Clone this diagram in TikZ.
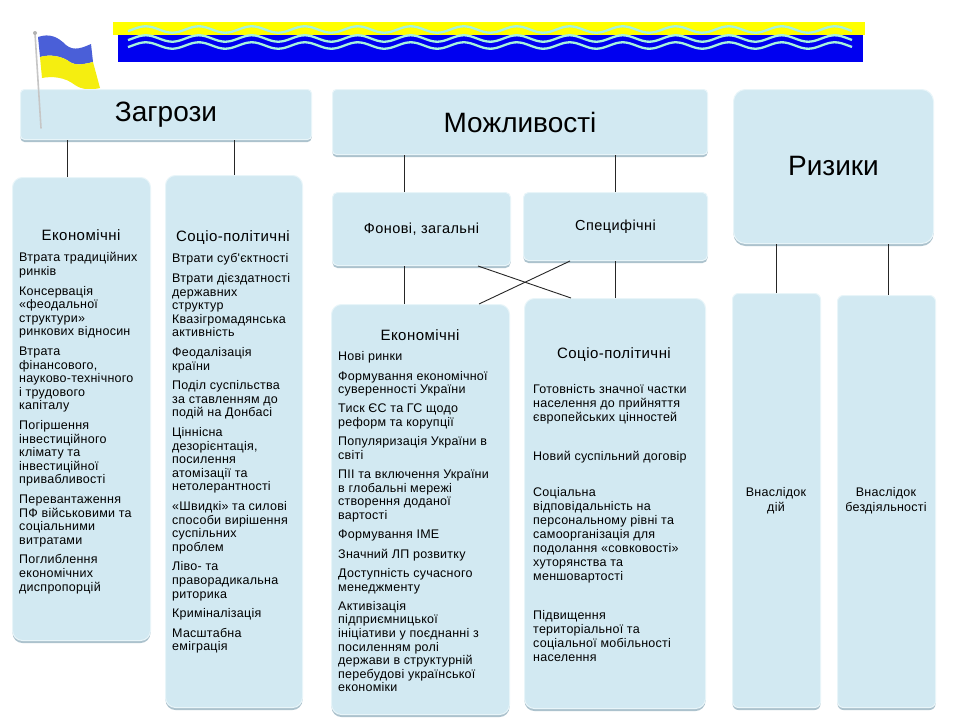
\documentclass[tikz,border=0pt]{standalone}
\usepackage{fontspec}
\setmainfont{Liberation Sans}
\newfontfamily\spacedfont[LetterSpace=2]{Liberation Sans}
\newfontfamily\titlefont[LetterSpace=3]{Liberation Sans}
\usetikzlibrary{shadows}
\definecolor{boxfill}{HTML}{D2E9F2}
\definecolor{boxedge}{HTML}{E8F5F9}
\definecolor{boxshadow}{HTML}{A3BCC8}
\definecolor{uablue}{HTML}{0000F0}
\definecolor{uayellow}{HTML}{FFFF00}
\definecolor{wavecol}{HTML}{A6F2DE}
\definecolor{flagblue}{HTML}{4A5FD8}
\definecolor{flagyellow}{HTML}{F5EE10}
\begin{document}
\begin{tikzpicture}[x=1pt,y=-1pt,
  panel/.style={fill=boxfill, draw=boxedge, line width=1pt, inner sep=0pt, anchor=north west,
    drop shadow={shadow xshift=0pt, shadow yshift=-2.5pt, fill=boxshadow, opacity=0.9}},
  headtext/.style={font=\fontsize{28}{30}\selectfont},
  subtext/.style={font=\titlefont\fontsize{14.5}{16}\selectfont},
  coltitle/.style={inner sep=0pt, font=\titlefont\fontsize{15}{17}\selectfont},
  bodytext/.style={inner sep=0pt, anchor=north west, align=left, font=\spacedfont\fontsize{12.5}{13.6}\selectfont},
  smalltext/.style={inner sep=0pt, align=center, font=\spacedfont\fontsize{12.5}{15}\selectfont},
  link/.style={draw=black!85, line width=0.9pt}]
\useasboundingbox (0,0) rectangle (960,720);
\fill[white] (0,0) rectangle (960,720);

% banner
\fill[uayellow] (113,22) rectangle (865,35);
\fill[uablue] (118,35) rectangle (863,62);
\foreach \yc in {29.5,38.5,45.5}
  \draw[wavecol, line width=2.3pt] plot[domain=128:852, samples=160, smooth] (\x, {\yc + 3.2*sin(\x/53*360)});

% flag
\fill[flagblue] (38,37) .. controls (50,33) and (58,37) .. (66,45) .. controls (74,52) and (84,47) .. (91,44)
  -- (93,62) .. controls (85,64) and (76,66) .. (70,62) .. controls (62,56) and (50,54) .. (40,57) -- cycle;
\fill[flagyellow] (40,57) .. controls (50,54) and (62,56) .. (70,62) .. controls (76,66) and (85,64) .. (93,62)
  -- (100,88) .. controls (92,90) and (82,90) .. (75,85) .. controls (65,77) and (52,76) .. (42,78) -- cycle;

% boxes
\node[panel, rounded corners=4pt, minimum width=291pt, minimum height=50pt] (zag) at (20,89) {};
\node[headtext] at (zag.center) {Загрози};
\node[panel, rounded corners=4pt, minimum width=375pt, minimum height=65pt] (mozh) at (332,89) {};
\node[headtext] at (mozh.center) {Можливості};
\node[panel, rounded corners=12pt, minimum width=200pt, minimum height=154pt] (riz) at (733,89) {};
\node[headtext] at (riz.center) {Ризики};

\node[panel, rounded corners=10pt, minimum width=138pt, minimum height=463pt] (le) at (12,177) {};
\node[panel, rounded corners=10pt, minimum width=137pt, minimum height=532pt] (ls) at (165,175) {};
\node[panel, rounded corners=5pt, minimum width=178pt, minimum height=73pt] (fon) at (332,192) {};
\node[subtext] at (fon.center) {Фонові, загальні};
\node[panel, rounded corners=5pt, minimum width=184pt, minimum height=68pt] (spec) at (523,192) {};
\node[subtext] at (spec.center) {Специфічні};
\node[panel, rounded corners=10pt, minimum width=178pt, minimum height=410pt] (me) at (331,304) {};
\node[panel, rounded corners=10pt, minimum width=181pt, minimum height=410pt] (ms) at (524,298) {};
\node[panel, rounded corners=6pt, minimum width=88pt, minimum height=414pt] (vd) at (732,293) {};
\node[panel, rounded corners=6pt, minimum width=98pt, minimum height=412pt] (vb) at (837,295) {};

% flag pole
\draw[gray!45, line width=1.6pt, line cap=round] (35,33) -- (41,128);
\fill[gray!60] (35,33) circle (2);

% texts left
\node[coltitle] (leT) at (81,235) {Економічні};
\node[bodytext] (leB) at (19,252.5) {Втрата традиційних\\ринків\\[6pt]
Консервація\\«феодальної\\структури»\\ринкових відносин\\[6pt]
Втрата\\фінансового,\\науково-технічного\\і трудового\\капіталу\\[6pt]
Погіршення\\інвестиційного\\клімату та\\інвестиційної\\привабливості\\[6pt]
Перевантаження\\ПФ військовими та\\соціальними\\витратами\\[6pt]
Поглиблення\\економічних\\диспропорцій};

\node[coltitle] (lsT) at (233,238) {Соціо-політичні};
\node[bodytext] (lsB) at (172,253.5) {Втрати суб'єктності\\[6pt]
Втрати дієздатності\\державних\\структур\\Квазігромадянська\\активність\\[6pt]
Феодалізація\\країни\\[6pt]
Поділ суспільства\\за ставленням до\\подій на Донбасі\\[6pt]
Ціннісна\\дезорієнтація,\\посилення\\атомізації та\\нетолерантності\\[6pt]
«Швидкі» та силові\\способи вирішення\\суспільних\\проблем\\[6pt]
Ліво- та\\праворадикальна\\риторика\\[6pt]
Криміналізація\\[6pt]
Масштабна\\еміграція};

% texts middle
\node[coltitle] (meT) at (420,335) {Економічні};
\node[bodytext] (meB) at (338,351.5) {Нові ринки\\[5.7pt]
Формування економічної\\суверенності України\\[5.7pt]
Тиск ЄС та ГС щодо\\реформ та корупції\\[5.7pt]
Популяризація України в\\світі\\[5.7pt]
ПІІ та включення України\\в глобальні мережі\\створення доданої\\вартості\\[5.7pt]
Формування ІМЕ\\[5.7pt]
Значний ЛП розвитку\\[5.7pt]
Доступність сучасного\\менеджменту\\[5.7pt]
Активізація\\підприємницької\\ініціативи у поєднанні з\\посиленням ролі\\держави в структурній\\перебудові української\\економіки};

\node[coltitle] (msT) at (614,355) {Соціо-політичні};
\node[bodytext, font=\spacedfont\fontsize{12.5}{14}\selectfont] (msB) at (533,384.5) {Готовність значної частки\\населення до прийняття\\європейських цінностей\\[25pt]
Новий суспільний договір\\[22pt]
Соціальна\\відповідальність на\\персональному рівні та\\самоорганізація для\\подолання «совковості»\\хуторянства та\\меншовартості\\[25pt]
Підвищення\\територіальної та\\соціальної мобільності\\населення};

% texts right
\node[smalltext] (vdT) at (776,501) {Внаслідок\\дій};
\node[smalltext] (vbT) at (886,501) {Внаслідок\\бездіяльності};

% connectors
\draw[link] ([xshift=-14pt]le.north) -- ([xshift=-14pt]le.north |- zag.south);
\draw[link] (ls.north) -- (ls.north |- zag.south);
\draw[link] ([xshift=-17pt]fon.north) -- ([xshift=-17pt]fon.north |- mozh.south);
\draw[link] (spec.north) -- (spec.north |- mozh.south);
\draw[link] ([xshift=-16pt]me.north) -- ([xshift=-16pt]me.north |- fon.south);
\draw[link] (ms.north) -- (ms.north |- spec.south);
\draw[link] ([xshift=-33pt]fon.south east) -- ([xshift=47pt]ms.north west);
\draw[link] ([xshift=47pt]spec.south west) -- ([xshift=-31pt]me.north east);
\draw[link] (vd.north) -- (vd.north |- riz.south);
\draw[link] ([xshift=2pt]vb.north) -- ([xshift=2pt]vb.north |- riz.south);
\end{tikzpicture}
\end{document}
